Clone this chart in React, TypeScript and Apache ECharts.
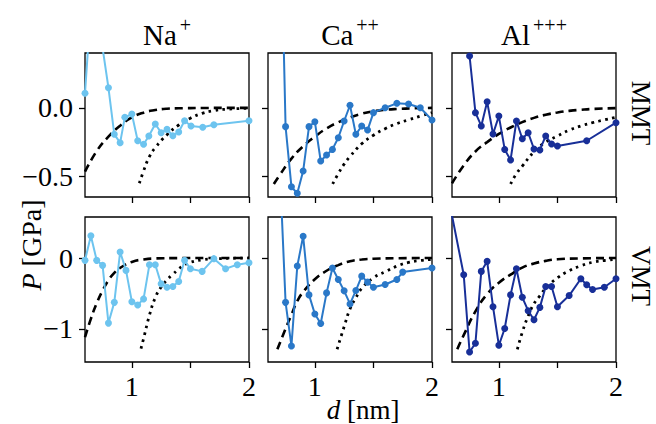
import React, { useEffect, useRef } from "react";
import * as echarts from "echarts";

// ---------- data (d in nm, P in GPa) ----------
const colTitles = [
  { base: "Na", sup: "+" },
  { base: "Ca", sup: "++" },
  { base: "Al", sup: "+++" },
];
const rowLabels = ["MMT", "VMT"];
const xTickValues = [1, 1.5, 2];
const xLabelValues = [1, 2];
const yTickValuesTop = [0, -0.5];
const yTickLabelsTop = ["0.0", "\u22120.5"];
const yTickValuesBottom = [0, -1];
const yTickLabelsBottom = ["0", "\u22121"];

const seriesColors = ["#6dc4ef", "#2a78c8", "#182f98"];

// Na MMT
const naMmtD = [0.6, 0.665, 0.8, 0.85, 0.9, 0.94, 1.0, 1.05, 1.1, 1.145, 1.2, 1.25, 1.3, 1.35, 1.4, 1.45, 1.505, 1.605, 1.7, 2.0];
const naMmtP = [0.106, 0.93, 0.147, -0.193, -0.254, -0.069, -0.045, -0.24, -0.266, -0.205, -0.118, -0.181, -0.157, -0.203, -0.176, -0.094, -0.132, -0.142, -0.123, -0.094];
const naMmtDashD = [0.6, 0.7, 0.8, 0.9, 1.0, 1.1, 1.2, 1.3, 1.4, 1.6, 1.8, 2.0];
const naMmtDashP = [-0.465, -0.315, -0.21, -0.13, -0.07, -0.035, -0.016, -0.006, -0.003, -0.001, 0, 0];
const naMmtDotD = [1.064, 1.1, 1.15, 1.2, 1.3, 1.4, 1.5, 1.6, 1.7, 1.8, 2.0];
const naMmtDotP = [-0.55, -0.46, -0.355, -0.29, -0.196, -0.125, -0.075, -0.04, -0.02, -0.01, -0.003];

// Ca MMT
const caMmtD = [0.7, 0.75, 0.8, 0.85, 0.9, 0.95, 1.0, 1.05, 1.1, 1.15, 1.2, 1.25, 1.3, 1.35, 1.4, 1.45, 1.5, 1.6, 1.7, 1.8, 1.9, 2.0];
const caMmtP = [1.73, -0.137, -0.575, -0.623, -0.461, -0.137, -0.101, -0.388, -0.344, -0.303, -0.218, -0.096, 0.019, -0.193, -0.132, -0.162, -0.035, 0.001, 0.033, 0.028, 0.001, -0.089];
const caMmtDashD = [0.65, 0.7, 0.8, 0.9, 1.0, 1.1, 1.2, 1.3, 1.4, 1.5, 1.6, 1.7, 1.85, 2.0];
const caMmtDashP = [-0.555, -0.49, -0.37, -0.28, -0.21, -0.15, -0.105, -0.07, -0.043, -0.025, -0.014, -0.008, -0.003, 0];
const caMmtDotD = [1.152, 1.2, 1.25, 1.3, 1.4, 1.5, 1.6, 1.7, 1.8, 1.9, 2.0];
const caMmtDotP = [-0.555, -0.48, -0.41, -0.355, -0.262, -0.2, -0.152, -0.115, -0.087, -0.06, -0.035];

// Al MMT
const alMmtD = [0.75, 0.8, 0.85, 0.9, 0.95, 1.0, 1.05, 1.1, 1.15, 1.2, 1.25, 1.3, 1.35, 1.4, 1.45, 1.5, 1.75, 2.0];
const alMmtP = [0.378, -0.035, -0.132, 0.045, -0.191, -0.06, -0.303, -0.38, -0.096, -0.225, -0.181, -0.3, -0.307, -0.205, -0.264, -0.278, -0.24, -0.108];
const alMmtDashD = [0.6, 0.7, 0.8, 0.9, 1.0, 1.1, 1.2, 1.3, 1.4, 1.5, 1.6, 1.7, 1.8, 2.0];
const alMmtDashP = [-0.55, -0.42, -0.318, -0.25, -0.19, -0.143, -0.104, -0.073, -0.05, -0.034, -0.022, -0.014, -0.008, -0.002];
const alMmtDotD = [1.1, 1.15, 1.2, 1.3, 1.4, 1.5, 1.6, 1.7, 1.8, 1.9, 2.0];
const alMmtDotP = [-0.555, -0.48, -0.425, -0.32, -0.25, -0.205, -0.163, -0.132, -0.108, -0.088, -0.068];

// Na VMT
const naVmtD = [0.6, 0.65, 0.7, 0.75, 0.8, 0.85, 0.9, 0.95, 1.0, 1.05, 1.1, 1.15, 1.2, 1.25, 1.3, 1.35, 1.4, 1.45, 1.5, 1.6, 1.7, 1.8, 1.9, 2.0];
const naVmtP = [-0.033, 0.314, -0.033, -0.104, -0.92, -0.627, 0.086, -0.175, -0.617, -0.664, -0.578, -0.094, -0.094, -0.365, -0.413, -0.403, -0.332, -0.033, -0.151, -0.189, -0.009, -0.151, -0.094, -0.066];
const naVmtDashD = [0.6, 0.65, 0.7, 0.75, 0.8, 0.85, 0.9, 1.0, 1.1, 1.2, 1.4, 1.6, 2.0];
const naVmtDashP = [-1.12, -0.86, -0.64, -0.46, -0.315, -0.21, -0.14, -0.055, -0.02, -0.006, -0.001, 0, 0];
const naVmtDotD = [1.078, 1.1, 1.15, 1.2, 1.25, 1.3, 1.35, 1.4, 1.45, 1.5, 1.6, 1.7, 1.85, 2.0];
const naVmtDotP = [-1.28, -1.14, -0.81, -0.56, -0.41, -0.31, -0.23, -0.155, -0.095, -0.06, -0.025, -0.012, -0.004, 0];

// Ca VMT
const caVmtD = [0.7, 0.75, 0.8, 0.85, 0.9, 0.95, 1.0, 1.05, 1.1, 1.15, 1.2, 1.25, 1.3, 1.35, 1.4, 1.45, 1.5, 1.6, 1.7, 1.75, 2.0];
const caVmtP = [1.3, -0.627, -1.243, -0.114, 0.309, -0.521, -0.792, -0.925, -0.493, -0.142, -0.303, -0.464, -0.649, -0.46, -0.256, -0.341, -0.413, -0.374, -0.303, -0.199, -0.142];
const caVmtDashD = [0.68, 0.75, 0.8, 0.85, 0.9, 1.0, 1.1, 1.2, 1.3, 1.4, 1.5, 1.7, 2.0];
const caVmtDashP = [-1.29, -1.0, -0.8, -0.61, -0.48, -0.3, -0.18, -0.1, -0.045, -0.02, -0.01, -0.003, 0];
const caVmtDotD = [1.19, 1.25, 1.3, 1.35, 1.4, 1.5, 1.6, 1.7, 1.8, 1.9, 2.0];
const caVmtDotP = [-1.29, -0.97, -0.72, -0.56, -0.43, -0.28, -0.195, -0.115, -0.062, -0.035, -0.02];

// Al VMT
const alVmtD = [0.6, 0.7, 0.75, 0.8, 0.85, 0.9, 0.95, 1.0, 1.05, 1.1, 1.15, 1.2, 1.25, 1.3, 1.35, 1.4, 1.45, 1.5, 1.6, 1.7, 1.75, 1.8, 1.9, 2.0];
const alVmtP = [0.6, -0.236, -1.329, -1.205, -0.189, -0.047, -0.688, -1.234, -0.997, -0.521, -0.151, -0.555, -0.745, -0.873, -0.698, -0.403, -0.403, -0.688, -0.531, -0.293, -0.379, -0.446, -0.413, -0.293];
const alVmtDashD = [0.645, 0.7, 0.8, 0.9, 1.0, 1.1, 1.2, 1.3, 1.4, 1.5, 1.7, 2.0];
const alVmtDashP = [-1.29, -1.09, -0.755, -0.51, -0.35, -0.235, -0.135, -0.078, -0.04, -0.018, -0.005, 0];
const alVmtDotD = [1.158, 1.2, 1.25, 1.3, 1.35, 1.4, 1.5, 1.6, 1.7, 1.8, 1.9, 2.0];
const alVmtDotP = [-1.29, -1.05, -0.82, -0.645, -0.535, -0.43, -0.28, -0.18, -0.11, -0.06, -0.035, -0.02];

const panels = [
  { data: [naMmtD, naMmtP], dash: [naMmtDashD, naMmtDashP], dot: [naMmtDotD, naMmtDotP] },
  { data: [caMmtD, caMmtP], dash: [caMmtDashD, caMmtDashP], dot: [caMmtDotD, caMmtDotP] },
  { data: [alMmtD, alMmtP], dash: [alMmtDashD, alMmtDashP], dot: [alMmtDotD, alMmtDotP] },
  { data: [naVmtD, naVmtP], dash: [naVmtDashD, naVmtDashP], dot: [naVmtDotD, naVmtDotP] },
  { data: [caVmtD, caVmtP], dash: [caVmtDashD, caVmtDashP], dot: [caVmtDotD, caVmtDotP] },
  { data: [alVmtD, alVmtP], dash: [alVmtDashD, alVmtDashP], dot: [alVmtDotD, alVmtDotP] },
];

const zip = (xs: number[], ys: number[]) => xs.map((x, i) => [x, ys[i]]);

// ---------- layout ----------
const FONT = '"Liberation Serif", "Times New Roman", serif';
const colLefts = [85, 268, 452];
const rowTops = [53, 217];
const panelW = 164;
const panelH = 145;
const yRanges = [
  [-0.65, 0.4],
  [-1.47, 0.58],
];
const rowLabelY = [113, 276];

export default function App() {
  const ref = useRef<HTMLDivElement>(null);
  useEffect(() => {
    if (!ref.current) return;
    const chart = echarts.init(ref.current, undefined, { renderer: "svg" });
    const grid: any[] = [];
    const xAxis: any[] = [];
    const yAxis: any[] = [];
    const series: any[] = [];
    panels.forEach((p, i) => {
      const r = Math.floor(i / 3);
      const c = i % 3;
      grid.push({
        left: colLefts[c],
        top: rowTops[r],
        width: panelW,
        height: panelH - (r === 0 ? 1 : 0),
        show: true,
        borderColor: "#000",
        borderWidth: 1.3,
        backgroundColor: "transparent",
      });
      xAxis.push({
        type: "value",
        gridIndex: i,
        min: 0.6,
        max: 2,
        position: "bottom",
        axisLine: { show: false, onZero: false },
        splitLine: { show: false },
        axisTick: {
          show: true,
          length: 6,
          customValues: xTickValues,
          lineStyle: { color: "#000", width: 1.3 },
        },
        axisLabel: {
          show: r === 1,
          customValues: xLabelValues,
          fontSize: 28,
          fontFamily: FONT,
          color: "#000",
          margin: 10,
          formatter: (v: number) => String(v),
        },
      });
      const tv = r === 0 ? yTickValuesTop : yTickValuesBottom;
      const tl = r === 0 ? yTickLabelsTop : yTickLabelsBottom;
      yAxis.push({
        type: "value",
        gridIndex: i,
        min: yRanges[r][0],
        max: yRanges[r][1],
        position: "left",
        axisLine: { show: false, onZero: false },
        splitLine: { show: false },
        axisTick: {
          show: true,
          length: 6,
          customValues: tv,
          lineStyle: { color: "#000", width: 1.3 },
        },
        axisLabel: {
          show: c === 0,
          customValues: tv,
          fontSize: 28,
          fontFamily: FONT,
          color: "#000",
          margin: 12,
          formatter: (v: number) => {
            const k = tv.findIndex((t) => Math.abs(t - v) < 1e-9);
            return k >= 0 ? tl[k] : "";
          },
        },
      });
      series.push({
        type: "line",
        xAxisIndex: i,
        yAxisIndex: i,
        data: zip(p.dash[0], p.dash[1]),
        smooth: 0.5,
        showSymbol: false,
        symbol: "none",
        lineStyle: { color: "#000", width: 2.6, type: [8, 5] },
        z: 2,
        silent: true,
      });
      series.push({
        type: "line",
        xAxisIndex: i,
        yAxisIndex: i,
        data: zip(p.dot[0], p.dot[1]),
        smooth: 0.5,
        showSymbol: false,
        symbol: "none",
        lineStyle: { color: "#000", width: 2.8, type: [2.6, 4.4] },
        z: 2,
        silent: true,
      });
      series.push({
        type: "line",
        xAxisIndex: i,
        yAxisIndex: i,
        data: zip(p.data[0], p.data[1]),
        symbol: "circle",
        symbolSize: 7,
        lineStyle: { color: seriesColors[c], width: 2 },
        itemStyle: { color: seriesColors[c] },
        z: 3,
        silent: true,
      });
    });

    const graphic: any[] = [];
    colTitles.forEach((t, c) => {
      graphic.push({
        type: "text",
        x: colLefts[c] + panelW / 2,
        y: 32,
        style: {
          text: `{b|${t.base}}{s|${t.sup}}`,
          align: "center",
          verticalAlign: "middle",
          rich: {
            b: { fontSize: 29, fontFamily: FONT, fill: "#000", lineHeight: 34, verticalAlign: "bottom" },
            s: { fontSize: 20, fontFamily: FONT, fill: "#000", lineHeight: 20, verticalAlign: "top", padding: [0, 0, 0, 3] },
          },
        },
      });
    });
    rowLabels.forEach((t, r) => {
      graphic.push({
        type: "text",
        x: 641,
        y: rowLabelY[r],
        rotation: -Math.PI / 2,
        style: {
          text: t,
          align: "center",
          verticalAlign: "middle",
          fontSize: 27,
          fontFamily: FONT,
          fill: "#000",
        },
      });
    });
    graphic.push({
      type: "text",
      x: 31,
      y: 245,
      rotation: Math.PI / 2,
      style: {
        text: "{i|P} [GPa]",
        align: "center",
        verticalAlign: "middle",
        fontSize: 28,
        fontFamily: FONT,
        fill: "#000",
        rich: {
          i: { fontSize: 28, fontFamily: FONT, fontStyle: "italic", fill: "#000" },
        },
      },
    });
    graphic.push({
      type: "text",
      x: 363,
      y: 410,
      style: {
        text: "{i|d} [nm]",
        align: "center",
        verticalAlign: "middle",
        fontSize: 27,
        lineHeight: 26,
        fontFamily: FONT,
        fill: "#000",
        rich: {
          i: { fontSize: 27, lineHeight: 26, fontFamily: FONT, fontStyle: "italic", fill: "#000" },
        },
      },
    });

    chart.setOption({
      animation: false,
      backgroundColor: "#fff",
      grid,
      xAxis,
      yAxis,
      series,
      graphic,
    });
    return () => chart.dispose();
  }, []);
  return (
    <div
      ref={ref}
      style={{ position: "fixed", left: 0, top: 0, width: 656, height: 424 }}
    />
  );
}
